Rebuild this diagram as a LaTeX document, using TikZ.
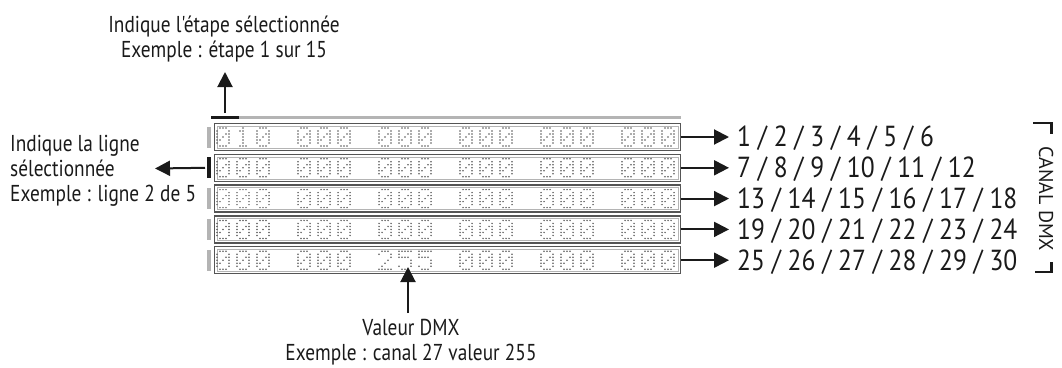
\documentclass[tikz,border=0pt]{standalone}
\usepackage{fontspec}
\usetikzlibrary{arrows.meta}
\newfontfamily\lblfont[FakeStretch=0.84]{PT Sans}
\newfontfamily\numfont[FakeStretch=0.88]{PT Sans}
\newfontfamily\canfont{PT Sans}
\definecolor{ink}{HTML}{1A1A1A}
\definecolor{dotc}{HTML}{5A5A5A}
\definecolor{barg}{HTML}{B4B4B4}
\definecolor{boxg}{HTML}{555555}
\newcommand\dmxdig[3]{%
  \foreach \rw [count=\ri from 0] in #3{%
    \foreach \cl in \rw {%
      \fill[dotc] ({#1+\cl*3},{#2+\ri*3}) circle (0.85pt);
    }%
  }%
}
\def\dZ{{1,2,3},{0,4},{0,3,4},{0,2,4},{0,1,4},{0,4},{1,2,3}}
\def\dO{{2},{1,2},{2},{2},{2},{2},{1,2,3}}
\def\dT{{1,2,3},{0,4},{4},{3},{2},{1},{0,1,2,3,4}}
\def\dF{{0,1,2,3,4},{0},{0,1,2,3},{4},{4},{0,4},{1,2,3}}
\begin{document}
\begin{tikzpicture}[x=1pt,y=-1pt,
  lbl/.style={font=\lblfont\fontsize{23}{25}\selectfont, text=ink, inner sep=0pt},
  num/.style={font=\numfont\fontsize{29}{30}\selectfont, text=ink, inner sep=0pt, anchor=base west},
  arr/.style={draw=ink, line width=2pt, -{Triangle[length=15pt,width=15pt]}},
  rowbox/.style={draw=boxg, line width=1.4pt},
  inbox/.style={draw=barg, line width=0.6pt}]
\useasboundingbox (0,0) rectangle (1062,367);

% top step bar
\fill[barg] (238.5,115.5) rectangle (680.5,119);
\fill[ink] (210.5,115.5) rectangle (238.5,119);
\coordinate (stepbar) at (225,113);

% rows
\foreach \i in {0,...,4}{
  \pgfmathsetmacro{\ty}{123.5+30.8*\i}
  \pgfmathsetmacro{\by}{\ty+27}
  \pgfmathsetmacro{\cy}{\ty+13.5}
  \node[draw=none, inner sep=0pt, minimum width=466pt, minimum height=27pt] (row\i) at (447.5,\cy) {};
  \draw[rowbox] (214.5,\ty) rectangle (680.5,\by);
  \draw[inbox] (217,\ty+2.5) rectangle (678,\by-2.5);
  \fill[barg] (207,\cy-10.5) rectangle (211,\cy+10.5);
}
\fill[ink] (206.5,{137+30.8-10.5}) rectangle (211,{137+30.8+10.5});
\coordinate (linebar) at (205,167.8);

% digits
\foreach \i in {0,...,4}{
  \pgfmathsetmacro{\dy}{137+30.8*\i-9}
  \foreach \k in {0,...,5}{
    \pgfmathsetmacro{\gx}{243+81*\k-26}
    \let\da\dZ\let\db\dZ\let\dc\dZ
    \ifnum\i=0 \ifnum\k=0 \let\db\dO\fi\fi
    \ifnum\i=4 \ifnum\k=2 \let\da\dT\let\db\dF\let\dc\dF\fi\fi
    \dmxdig{\gx}{\dy}{\da}
    \dmxdig{\gx+20}{\dy}{\db}
    \dmxdig{\gx+40}{\dy}{\dc}
  }
}

% right channel labels
\node[num] (c0) at (737,146.5) {1 / 2 / 3 / 4 / 5 / 6};
\node[num] (c1) at (737,177.5) {7 / 8 / 9 / 10 / 11 / 12};
\node[num] (c2) at (737,208.5) {13 / 14 / 15 / 16 / 17 / 18};
\node[num] (c3) at (737,239) {19 / 20 / 21 / 22 / 23 / 24};
\node[num] (c4) at (737,270) {25 / 26 / 27 / 28 / 29 / 30};
\foreach \i in {0,...,4}{
  \draw[arr] (row\i.east) -- ([xshift=-8pt]row\i.east -| c\i.west);
}

% CANAL DMX
\node[font=\canfont\fontsize{20}{22}\selectfont, text=ink, inner sep=0pt, rotate=-90] (canal) at (1046,199) {CANAL DMX};
\draw[ink, line width=2.6pt] (1033,123) -- (1051.5,123) -- (1051.5,134);
\draw[ink, line width=2.6pt] (1035,272) -- (1051.5,272) -- (1051.5,262);

% top label
\node[lbl, align=center, anchor=base] (steplbl) at (224,57) {Indique l'étape sélectionnée\\Exemple : étape 1 sur 15};
\coordinate (steptip) at (225,72);
\draw[arr] (stepbar) -- (steptip);

% left label
\node[lbl, align=left, anchor=base west] (linelbl) at (10,201.5) {Indique la ligne\\sélectionnée\\Exemple : ligne 2 de 5};
\coordinate (linetip) at (155,168.5);
\draw[arr] (linebar) -- (linetip);

% bottom label
\node[lbl, align=center, anchor=base] (vallbl) at (411,360) {Valeur DMX\\Exemple : canal 27 valeur 255};
\coordinate (valfoot) at (408,313);
\coordinate (valtip) at (408,267);
\draw[arr] (valfoot) -- (valtip);
\end{tikzpicture}
\end{document}
